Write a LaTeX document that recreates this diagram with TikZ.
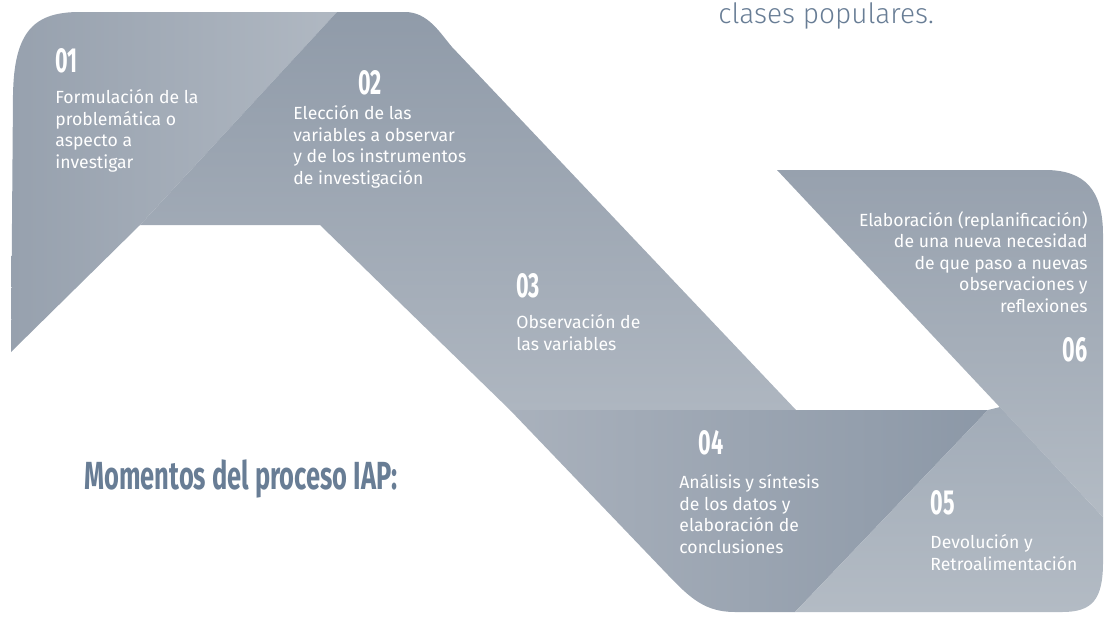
\documentclass[tikz,border=0pt]{standalone}
\usepackage{fontspec}
\setmainfont{Fira Sans}
\newfontfamily\numfont{Fira Sans}[FakeStretch=0.62]
\newfontfamily\headfont{Fira Sans}[FakeStretch=0.65]
\newfontfamily\lightfont{Fira Sans Light}
\usetikzlibrary{positioning}

\definecolor{slate}{HTML}{687D95}
\definecolor{ribA}{HTML}{97A1AE}
\definecolor{ribAl}{HTML}{B0B8C2}
\definecolor{ribB}{HTML}{909BA9}
\definecolor{ribBl}{HTML}{AEB6C0}
\definecolor{ribC}{HTML}{A9B1BC}
\definecolor{ribCd}{HTML}{8C98A7}
\definecolor{ribD}{HTML}{A2ACB8}
\definecolor{ribDl}{HTML}{B3BBC4}

\tikzset{
	num/.style={font=\numfont\bfseries\fontsize{17.4}{17.4}\selectfont, text=white, inner sep=0pt},
	txt/.style={font=\fontsize{8.8}{10.75}\selectfont, text=white, inner sep=0pt, align=left},
}

\begin{document}
\begin{tikzpicture}[x=0.5pt,y=-0.5pt]
	\useasboundingbox (0,0) rectangle (1106,616);
	
	% fold points of the ribbon
	\coordinate (F1) at (337,12);  % fold 01/02, top
	\coordinate (F2) at (140,225); % fold 01/02, bottom
	\coordinate (K1) at (320,225); % inner edge of band 03
	\coordinate (K2) at (510,410);
	\coordinate (K3) at (796,410); % outer edge of band 03
	\coordinate (F3) at (988,410); % fold 04/05, top
	\coordinate (F4) at (795,612); % fold 04/05, bottom
	\coordinate (W) at (1000,407); % corner of the white gap
	\coordinate (S1) at (777,170); % edge of 06
	\coordinate (S2) at (1103,517);
	
	% 01
	\shade[left color=ribA, right color=ribAl] (11,352) -- (13,95)
		.. controls (14,30) and (35,12) .. (80,12) -- (F1) -- (F2) -- cycle;
	
	% 02 and 03
	\shade[top color=ribB, bottom color=ribBl] (F2) -- (F1) -- (405,12)
		.. controls (428,12) and (440,33) .. (452,47) -- (K3) -- (K2) -- (K1) -- cycle;
	
	% 04
	\shade[left color=ribC, right color=ribCd] (K2) -- (F3) -- (F4) -- (735,612)
		.. controls (705,612) and (690,598) .. (668,575) -- cycle;
	
	% 05
	\shade[top color=ribD, bottom color=ribDl] (F3) -- (W) -- (S2) -- (1103,562)
		.. controls (1103,600) and (1092,612) .. (1062,612) -- (F4) -- cycle;
	
	% 06
	\shade[top color=ribA, bottom color=ribDl] (S1) -- (1045,170)
		.. controls (1085,170) and (1103,190) .. (1103,235) -- (S2) -- cycle;
	
	% steps
	\node[num, anchor=north west] (n01) at (55,48) {01};
	\node[txt, below=8pt of n01.south west, anchor=north west] (t01)
		{Formulación de la\\problemática o\\aspecto a\\investigar};
	
	\node[num, anchor=north west] (n02) at (358,70) {02};
	\node[txt, anchor=north west] (t02) at (293,105)
		{Elección de las\\variables a observar\\y de los instrumentos\\de investigación};
	
	\node[num, anchor=north west] (n03) at (516,273) {03};
	\node[txt, below=8pt of n03.south west, anchor=north west] (t03)
		{Observación de\\las variables};
	
	\node[num, anchor=north west] (n04) at (698,430) {04};
	\node[txt, anchor=north west] (t04) at (679,474)
		{Análisis y síntesis\\de los datos y\\elaboración de\\conclusiones};
	
	\node[num, anchor=north west] (n05) at (930,490) {05};
	\node[txt, below=9.5pt of n05.south west, anchor=north west] (t05)
		{Devolución y\\Retroalimentación};
	
	\node[num, anchor=north east] (n06) at (1088,337) {06};
	\node[txt, align=right, above=12pt of n06.north east, anchor=south east] (t06)
		{Elaboración (replanificación)\\de una nueva necesidad\\de que paso a nuevas\\observaciones y\\reflexiones};
	
	% titles
	\node[font=\headfont\bfseries\fontsize{19.6}{19.6}\selectfont, text=slate, inner sep=0pt,
		anchor=north west] (title) at (84,459) {Momentos del proceso IAP:};
	\node[font=\lightfont\fontsize{14}{14}\selectfont, text=slate, inner sep=0pt,
		anchor=base west] (clases) at (718,23) {clases populares.};
\end{tikzpicture}
\end{document}
